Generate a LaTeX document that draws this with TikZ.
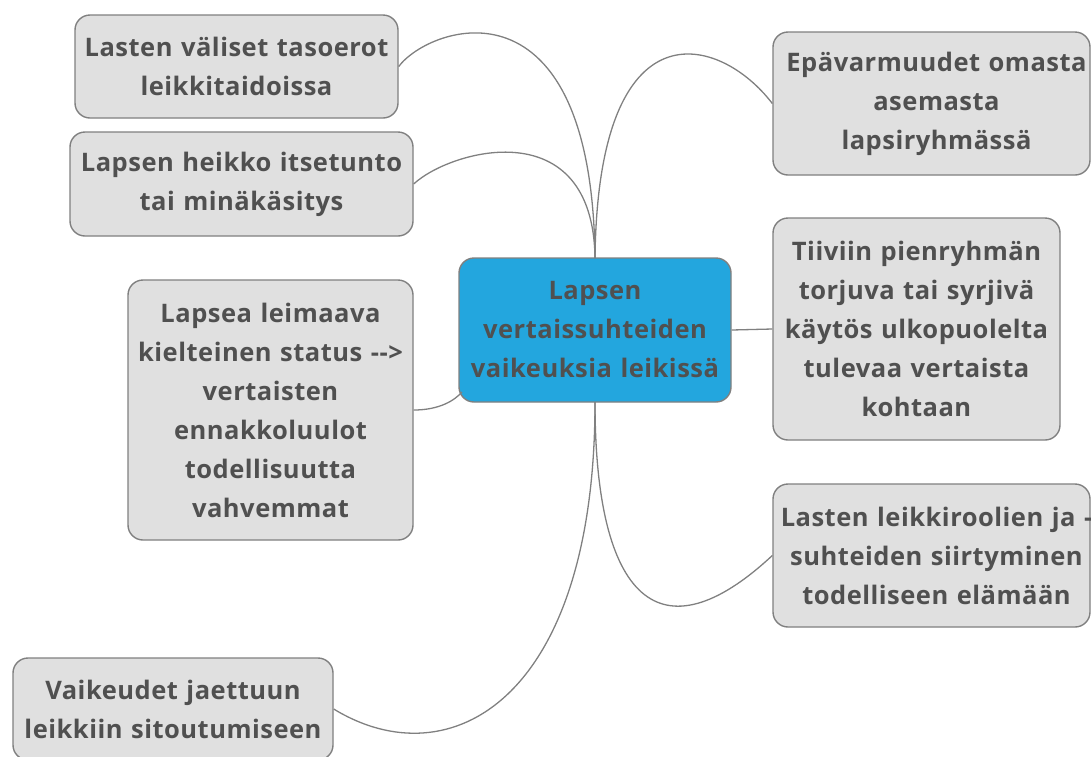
\documentclass[tikz,border=0pt]{standalone}
\usepackage{fontspec}
\setmainfont[LetterSpace=2.0]{Open Sans}
\definecolor{boxfill}{HTML}{E0E0E0}
\definecolor{boxline}{HTML}{808080}
\definecolor{centerfill}{HTML}{23A6DE}
\definecolor{txt}{HTML}{505050}
\definecolor{conn}{HTML}{808080}
\newcommand{\shiftedtext}[1]{\hspace*{10pt}\parbox{307pt}{\centering #1}}
\begin{document}
\begin{tikzpicture}[x=1pt,y=-1pt,
  box/.style={draw=boxline, line width=1.4pt, fill=boxfill, rounded corners=15pt,
    inner sep=0pt, align=center, text=txt,
    font=\fontsize{25.5}{39}\selectfont\bfseries},
  centerbox/.style={box, fill=centerfill},
  conline/.style={draw=conn, line width=1.3pt}]
\useasboundingbox (0,0) rectangle (1091,756);
\node[centerbox, text width=272pt, minimum height=144pt] (c) at (595,330) {Lapsen\\vertaissuhteiden\\vaikeuksia leikissä};
\node[box, text width=323pt, minimum height=103pt] (b1) at (236.5,66.5) {Lasten väliset tasoerot\\leikkitaidoissa};
\node[box, text width=343pt, minimum height=104pt] (b2) at (241.5,184) {Lapsen heikko itsetunto\\tai minäkäsitys};
\node[box, text width=285pt, minimum height=260pt] (b3) at (270.5,410) {Lapsea leimaava\\kielteinen status -{}->\\vertaisten\\ennakkoluulot\\todellisuutta\\vahvemmat};
\node[box, text width=320pt, minimum height=102pt] (b4) at (173,709) {Vaikeudet jaettuun\\leikkiin sitoutumiseen};
\node[box, text width=317pt, minimum height=143pt] (b6) at (931.5,103.5) {\shiftedtext{\makebox[0pt]{Epävarmuudet omasta}\\asemasta\\lapsiryhmässä}};
\node[box, text width=287pt, minimum height=222pt] (b7) at (916.5,329) {Tiiviin pienryhmän\\torjuva tai syrjivä\\käytös ulkopuolelta\\tulevaa vertaista\\kohtaan};
\node[box, text width=317pt, minimum height=143pt] (b8) at (931.5,555.5) {\shiftedtext{\makebox[0pt]{Lasten leikkiroolien ja -}\\suhteiden siirtyminen\\todelliseen elämään}};
\coordinate (ctop) at (595,258);
\coordinate (cbot) at (595,402);
\coordinate (cleft) at (462,392);
\draw[conline] (b1.east) .. controls (430,25) and (592,-30) .. (ctop);
\draw[conline] (b2.east) .. controls (450,150) and (593,110) .. (ctop);
\draw[conline] (b6.west) .. controls (720,35) and (598,0) .. (ctop);
\draw[conline] (b3.east) .. controls (440,410) and (455,400) .. (cleft);
\draw[conline] (c.east) -- (b7.west);
\draw[conline] (cbot) .. controls (595,700) and (450,780) .. (b4.east);
\draw[conline] (cbot) .. controls (595,600) and (660,660) .. (b8.west);
\end{tikzpicture}
\end{document}
